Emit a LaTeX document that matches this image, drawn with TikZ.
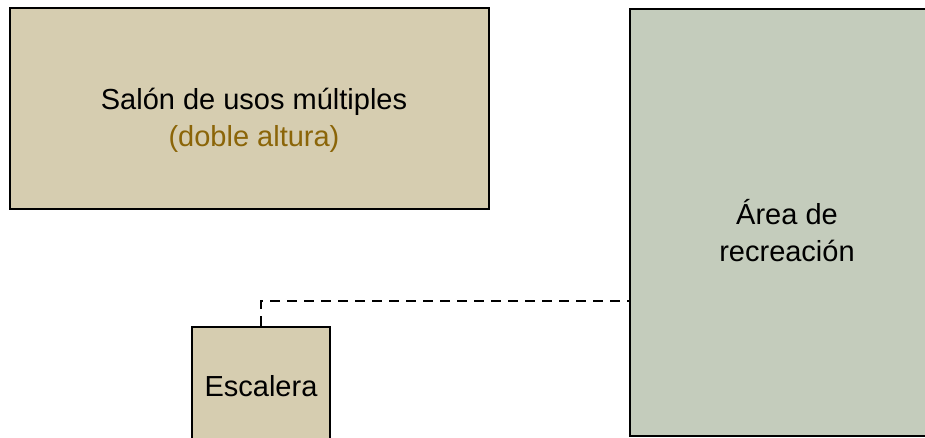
\documentclass[tikz,border=0pt]{standalone}
\usepackage{fontspec}
\setmainfont{Liberation Sans}
\usepackage{xcolor}
\usepackage{tikz}
\usetikzlibrary{calc}
\definecolor{sand}{HTML}{D6CDB0}
\definecolor{sage}{HTML}{C4CCBC}
\definecolor{ochre}{HTML}{8B6508}

\begin{document}
\begin{tikzpicture}[
  x=1pt,y=1pt,
  room/.style={draw=black,line width=2.6pt,inner sep=0pt},
  lbl/.style={align=center,font=\fontsize{29}{36.7}\selectfont},
  link/.style={draw=black,line width=2pt,dash pattern=on 10pt off 7pt}
]
\useasboundingbox (0,0) rectangle (925,438);
\clip (0,0) rectangle (925,438);
\node[room,fill=sand,minimum width=479pt,minimum height=201pt] (salon) at (249.5,329.5) {};
\node[room,fill=sage,minimum width=314pt,minimum height=427pt] (area) at (787,215.5) {};
\node[room,fill=sand,line width=2pt,minimum width=138pt,minimum height=118pt,
  font=\fontsize{29}{36.7}\selectfont] (esc) at (261,52) {Escalera};
\node[lbl] (salontxt) at ($(salon.center)+(4.5,-12)$)
  {Salón de usos múltiples\\\textcolor{ochre}{(doble altura)}};
\node[lbl] (areatxt) at ($(area.center)+(0,-8)$) {Área de\\recreación};
\coordinate (door) at ($(area.south west)+(0,136)$);
\draw[link] (esc.north) |- (door);
\end{tikzpicture}
\end{document}
